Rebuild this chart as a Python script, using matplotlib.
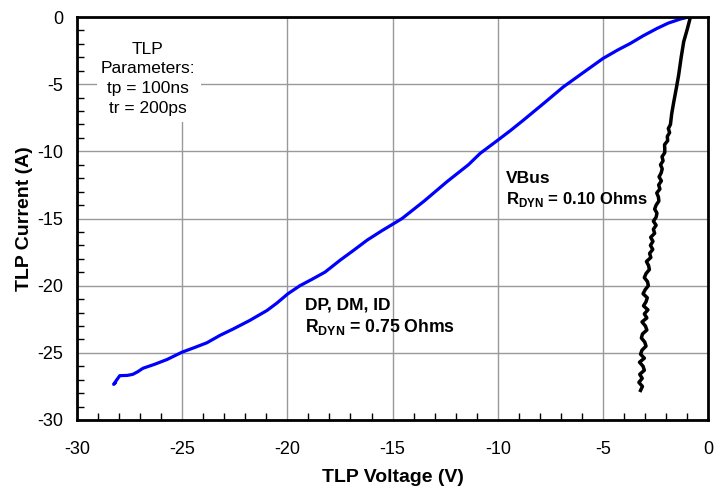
import matplotlib
matplotlib.use("Agg")
import matplotlib.pyplot as plt
from matplotlib.patches import Rectangle

plt.rcParams['font.family'] = ['Liberation Sans', 'DejaVu Sans']
plt.rcParams['axes.unicode_minus'] = False
plt.rcParams['mathtext.fontset'] = 'custom'
plt.rcParams['mathtext.rm'] = 'Liberation Sans:bold'
plt.rcParams['mathtext.bf'] = 'Liberation Sans:bold'

# DP, DM, ID pins (blue)
v_dp = [-28.19, -28.25, -28.1, -27.96, -27.6, -27.34, -27.1, -26.86, -26.3, -25.72,
        -25.0, -24.4, -23.82, -23.2, -22.58, -21.8, -20.97, -20.5, -19.97, -19.4,
        -18.8, -18.21, -17.49, -16.88, -16.2, -15.5, -14.97, -14.55, -13.5, -12.41,
        -11.4, -10.84, -10.03, -9.4, -8.78, -7.8, -6.88, -6.0, -5.0, -4.3,
        -3.7, -3.1, -2.44, -1.9, -1.33, -0.95]
i_dp = [-27.25, -27.35, -27.0, -26.7, -26.68, -26.6, -26.4, -26.15, -25.85, -25.5,
        -24.95, -24.6, -24.25, -23.7, -23.23, -22.6, -21.85, -21.3, -20.6, -20.0,
        -19.5, -18.99, -18.1, -17.4, -16.6, -15.9, -15.4, -15.0, -13.7, -12.25,
        -11.0, -10.15, -9.2, -8.45, -7.67, -6.4, -5.19, -4.2, -3.08, -2.45,
        -1.96, -1.4, -0.85, -0.45, -0.15, 0.0]

# VBus (black, noisy trace)
v_vb = [-0.85, -1.0, -1.17, -1.29, -1.41, -1.52, -1.64, -1.74,
        -1.80, -1.90, -1.84, -1.95, -1.93, -2.08, -2.07, -2.07, -2.20, -2.15,
        -2.27, -2.19, -2.24, -2.34, -2.23, -2.36, -2.30, -2.45, -2.37, -2.35,
        -2.48, -2.55, -2.44, -2.48, -2.61, -2.48, -2.61, -2.55, -2.74, -2.63,
        -2.75, -2.64, -2.79, -2.73, -2.94, -2.84, -2.80, -2.96, -3.04, -2.89,
        -2.85, -3.00, -3.10, -2.90, -2.96, -3.08, -2.87, -3.04, -2.92, -3.15,
        -2.99, -2.92, -3.13, -3.18, -3.02, -2.96, -3.15, -3.22, -3.04, -3.27,
        -3.10, -3.04, -3.26, -3.14, -3.30, -3.13, -3.22]
i_vb = [0.0, -0.9, -1.84, -3.0, -4.32, -5.3, -6.3, -7.2,
        -8.0, -8.3, -8.6, -8.9, -9.2, -9.5, -9.8, -10.1, -10.4, -10.7,
        -11.0, -11.3, -11.6, -11.9, -12.2, -12.5, -12.8, -13.1, -13.4, -13.7,
        -14.0, -14.3, -14.6, -14.9, -15.2, -15.5, -15.8, -16.1, -16.4, -16.7,
        -17.0, -17.3, -17.6, -17.9, -18.2, -18.5, -18.8, -19.1, -19.4, -19.7,
        -20.0, -20.3, -20.6, -20.9, -21.2, -21.5, -21.8, -22.1, -22.4, -22.7,
        -23.0, -23.3, -23.6, -23.9, -24.2, -24.5, -24.8, -25.1, -25.4, -25.7,
        -26.0, -26.3, -26.6, -26.9, -27.2, -27.5, -27.8]

fig = plt.figure(figsize=(7.25, 4.87), dpi=100)
ax = fig.add_axes([0.106, 0.1376, 0.871, 0.8274])

ax.plot(v_dp, i_dp, color='#0000ff', lw=2.3, zorder=3)
ax.plot(v_vb, i_vb, color='black', lw=2.5, zorder=3)

ax.set_xlim(-30, 0)
ax.set_ylim(-30, 0)
ax.set_xticks(range(-30, 1, 5))
ax.set_yticks(range(-30, 1, 5))
ax.set_xticks(range(-30, 1, 1), minor=True)
ax.set_yticks(range(-30, 1, 1), minor=True)
ax.tick_params(which='major', length=0, labelsize=13)
ax.tick_params(axis='x', which='major', pad=15)
ax.tick_params(axis='y', which='major', pad=10)
ax.tick_params(which='minor', direction='in', length=5, width=1)
ax.grid(True, which='major', color='#999999', lw=1)
for s in ax.spines.values():
    s.set_linewidth(2)
    s.set_zorder(5)

ax.set_xlabel('TLP Voltage (V)', fontsize=14, fontweight='bold', labelpad=8)
ax.set_ylabel('TLP Current (A)', fontsize=14, fontweight='bold', labelpad=3)

# white box behind the parameter note
ax.add_patch(Rectangle((0.032, 0.74), 0.164, 0.26, transform=ax.transAxes,
                       facecolor='white', edgecolor='none', zorder=2.5))
ax.text(-26.62, -4.6, 'TLP\nParameters:\ntp = 100ns\ntr = 200ps', ha='center', va='center',
        fontsize=12.5, linespacing=1.4, zorder=4)

ax.text(-9.6, -12.0, 'VBus', fontsize=12.5, fontweight='bold', va='center', zorder=4)
ax.text(-9.6, -13.6, r'R$_{\mathrm{DYN}}$ = 0.10 Ohms', fontsize=12, fontweight='bold',
        va='center', zorder=4)
ax.text(-19.16, -21.45, 'DP, DM, ID', fontsize=12.5, fontweight='bold', va='center', zorder=4)
ax.text(-19.16, -23.1, r'R$_{\mathrm{DYN}}$ = 0.75 Ohms', fontsize=12.7, fontweight='bold',
        va='center', zorder=4)

fig.savefig('out.png', dpi=100)
